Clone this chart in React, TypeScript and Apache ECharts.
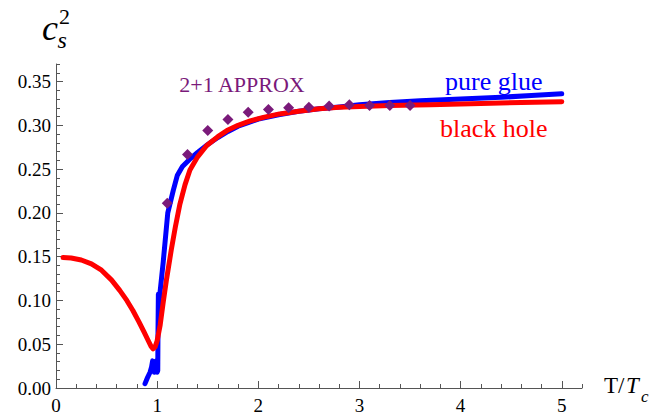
import React, { useEffect, useRef } from "react";
import * as echarts from "echarts";

const FONT = "Liberation Serif";

const xMajorTicks = [0, 1, 2, 3, 4, 5];
const yMajorTicks = [0, 0.05, 0.1, 0.15, 0.2, 0.25, 0.3, 0.35];

const blackHole: [number, number][] = [
  [0.07, 0.149], [0.15, 0.1484], [0.25, 0.1462], [0.35, 0.1418], [0.45, 0.1345],
  [0.55, 0.1232], [0.63, 0.1115], [0.7, 0.1], [0.76, 0.0885], [0.82, 0.0755],
  [0.87, 0.064], [0.91, 0.0545], [0.94, 0.0475], [0.96, 0.0448], [0.98, 0.047],
  [1.0, 0.054], [1.03, 0.072], [1.06, 0.098], [1.09, 0.122], [1.14, 0.158],
  [1.18, 0.184], [1.225, 0.21], [1.275, 0.232], [1.324, 0.249], [1.4, 0.264],
  [1.49, 0.277], [1.6, 0.287], [1.69, 0.294], [1.8, 0.3], [1.92, 0.305],
  [2.05, 0.309], [2.21, 0.313], [2.4, 0.316], [2.6, 0.319], [2.8, 0.3205],
  [3.0, 0.3215], [3.3, 0.3225], [3.7, 0.3235], [4.2, 0.325], [4.6, 0.326],
  [5.0, 0.327],
];

const pureGlue: [number, number][] = [
  [0.88, 0.005], [0.905, 0.012], [0.93, 0.018], [0.945, 0.024], [0.955, 0.031],
  [0.965, 0.024], [0.972, 0.018], [0.985, 0.03], [0.992, 0.031], [1.0, 0.018],
  [1.006, 0.02], [1.008, 0.06], [1.012, 0.107], [1.014, 0.085], [1.02, 0.1],
  [1.06, 0.144], [1.105, 0.2], [1.16, 0.226], [1.2, 0.243], [1.25, 0.253],
  [1.32, 0.261], [1.4, 0.269], [1.5, 0.278], [1.6, 0.286], [1.7, 0.293],
  [1.8, 0.299], [1.9, 0.303], [2.0, 0.307], [2.2, 0.312], [2.4, 0.316],
  [2.6, 0.319], [2.8, 0.321], [3.0, 0.3235], [3.3, 0.326], [3.6, 0.328],
  [4.0, 0.33], [4.4, 0.332], [4.7, 0.334], [5.0, 0.336],
];

const approx21: [number, number][] = [
  [1.1, 0.211], [1.3, 0.2667], [1.5, 0.294], [1.7, 0.3067], [1.9, 0.315],
  [2.1, 0.318], [2.3, 0.32], [2.5, 0.3207], [2.7, 0.322], [2.9, 0.3235],
  [3.1, 0.3227], [3.3, 0.3227], [3.5, 0.3227],
];

const AXIS_COLOR = "#555";
const PURPLE = "#7a1a7a";

function txt(
  x: number,
  y: number,
  text: string,
  size: number,
  fill: string,
  italic = false,
  align: "left" | "center" = "left"
) {
  return {
    type: "text",
    x,
    y,
    style: {
      text,
      fill,
      fontFamily: FONT,
      fontSize: size,
      fontStyle: italic ? "italic" : "normal",
      align,
      verticalAlign: "middle",
    },
  };
}

export default function App() {
  const ref = useRef<HTMLDivElement>(null);
  useEffect(() => {
    if (!ref.current) return;
    const chart = echarts.init(ref.current, null, { renderer: "svg" });
    const xBase = {
      type: "value" as const,
      min: 0,
      max: 5.2,
      position: "bottom" as const,
      splitLine: { show: false },
    };
    const yBase = {
      type: "value" as const,
      min: 0,
      max: 0.37,
      position: "left" as const,
      splitLine: { show: false },
    };
    chart.setOption({
      animation: false,
      backgroundColor: "#fff",
      grid: { left: 56, right: 89, top: 64, bottom: 26 },
      xAxis: [
        {
          ...xBase,
          interval: 0.2,
          axisLine: { show: true, onZero: false, lineStyle: { color: AXIS_COLOR, width: 1 } },
          axisTick: { show: true, inside: true, length: 4, lineStyle: { color: AXIS_COLOR } },
          axisLabel: { show: false },
        },
        {
          ...xBase,
          interval: 1,
          axisLine: { show: false, onZero: false },
          axisTick: {
            show: true,
            inside: true,
            length: 7,
            customValues: xMajorTicks,
            lineStyle: { color: AXIS_COLOR },
          },
          axisLabel: {
            show: true,
            customValues: xMajorTicks,
            fontFamily: FONT,
            fontSize: 19,
            color: "#000",
            margin: 8,
          },
        },
      ],
      yAxis: [
        {
          ...yBase,
          interval: 0.01,
          axisLine: { show: true, onZero: false, lineStyle: { color: AXIS_COLOR, width: 1 } },
          axisTick: { show: true, inside: true, length: 4, lineStyle: { color: AXIS_COLOR } },
          axisLabel: { show: false },
        },
        {
          ...yBase,
          interval: 0.05,
          axisLine: { show: false, onZero: false },
          axisTick: {
            show: true,
            inside: true,
            length: 7,
            customValues: yMajorTicks,
            lineStyle: { color: AXIS_COLOR },
          },
          axisLabel: {
            show: true,
            customValues: yMajorTicks,
            formatter: (v: number) => v.toFixed(2),
            fontFamily: FONT,
            fontSize: 19,
            color: "#000",
            margin: 5,
          },
        },
      ],
      series: [
        {
          name: "pure glue",
          type: "line",
          data: pureGlue,
          showSymbol: false,
          symbol: "none",
          smooth: false,
          lineStyle: { color: "#0000ff", width: 5, join: "round", cap: "round" },
          z: 2,
        },
        {
          name: "black hole",
          type: "line",
          data: blackHole,
          showSymbol: false,
          symbol: "none",
          smooth: false,
          lineStyle: { color: "#ff0000", width: 5, join: "round", cap: "round" },
          z: 3,
        },
        {
          name: "2+1 APPROX",
          type: "scatter",
          data: approx21,
          symbol: "diamond",
          symbolSize: [11, 11],
          itemStyle: { color: PURPLE, opacity: 1 },
          z: 4,
        },
      ],
      graphic: [
        txt(242, 84, "2+1 APPROX", 22, PURPLE, false, "center"),
        txt(445, 81, "pure glue", 26, "#0000ff"),
        txt(440, 128, "black hole", 26, "#ff0000"),
        // y-axis title c_s^2
        txt(42, 28, "c", 36, "#000", true),
        txt(57.5, 40, "s", 24, "#000", true),
        txt(59, 16.5, "2", 22, "#000"),
        // x-axis title T/T_c
        txt(604, 385.5, "T/", 23, "#000"),
        txt(626, 385.5, "T", 23, "#000", true),
        txt(641, 396, "c", 17, "#000", true),
      ],
    });
    return () => chart.dispose();
  }, []);
  return (
    <div
      ref={ref}
      style={{ position: "fixed", left: 0, top: 0, width: 671, height: 415 }}
    />
  );
}
